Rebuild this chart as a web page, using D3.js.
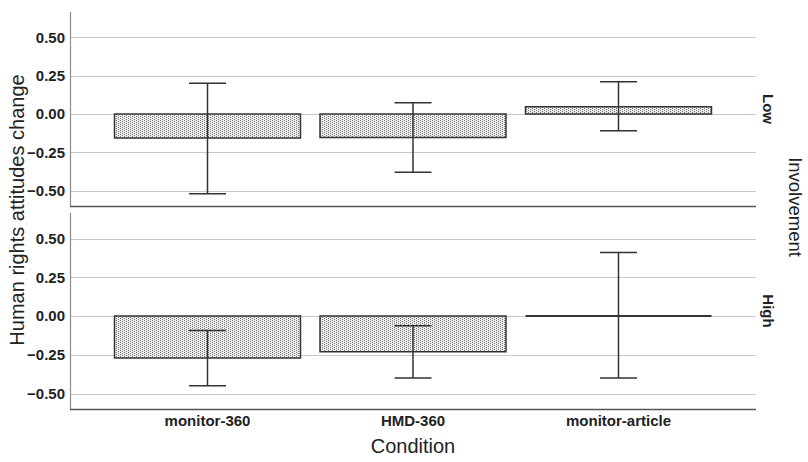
<!DOCTYPE html>
<html>
<head>
<meta charset="utf-8">
<script src="https://cdn.jsdelivr.net/npm/d3@7"></script>
<style>
  body { margin: 0; background: #fff; }
  svg { display: block; font-family: "Liberation Sans", Arial, sans-serif; }
</style>
</head>
<body>
<svg width="808" height="462"></svg>
<script>
var categories = ["monitor-360", "HMD-360", "monitor-article"];
var panelNames = ["Low", "High"];
var yTicks = [0.5, 0.25, 0, -0.25, -0.5];

// means and 95% CI per panel
var lowMeans = [-0.156, -0.153, 0.047],
	lowLower = [-0.52, -0.38, -0.11],
	lowUpper = [0.20, 0.073, 0.21];
var highMeans = [-0.271, -0.23, 0.0],
	highLower = [-0.45, -0.40, -0.40],
	highUpper = [-0.094, -0.062, 0.41];

var panelData = [
	{name: panelNames[0], means: lowMeans, lower: lowLower, upper: lowUpper, top: 12, bottom: 206},
	{name: panelNames[1], means: highMeans, lower: highLower, upper: highUpper, top: 213, bottom: 409}
];

var left = 70, right = 756;
var svg = d3.select("svg");

// dotted fill
var pat = svg.append("defs").append("pattern")
	.attr("id", "dots")
	.attr("patternUnits", "userSpaceOnUse")
	.attr("width", 4).attr("height", 2);
pat.append("rect").attr("width", 4).attr("height", 2).attr("fill", "#ececec");
pat.append("rect").attr("x", 0).attr("y", 0).attr("width", 1).attr("height", 1).attr("fill", "#7a7a7a");
pat.append("rect").attr("x", 2).attr("y", 1).attr("width", 1).attr("height", 1).attr("fill", "#7a7a7a");

var x = d3.scaleBand()
	.domain(categories)
	.range([left, right])
	.paddingInner(0.095)
	.paddingOuter(0.2166);

var capHalf = 18.5;

panelData.forEach(function(p){
	var y = d3.scaleLinear().domain([-0.6, 0.665]).range([p.bottom, p.top]);
	var g = svg.append("g");

	// grid
	g.selectAll(".grid").data(yTicks).enter()
		.append("line")
		.attr("x1", left).attr("x2", right)
		.attr("y1", function(d){ return Math.round(y(d)) + 0.5; })
		.attr("y2", function(d){ return Math.round(y(d)) + 0.5; })
		.attr("stroke", "#c8c8c8").attr("stroke-width", 1.2);

	// y axis
	var yAxis = d3.axisLeft(y).tickValues(yTicks).tickSize(0).tickPadding(5)
		.tickFormat(d3.format(".2f"));
	var ax = g.append("g").attr("transform", "translate(" + left + ",0)").call(yAxis);
	ax.select(".domain").remove();
	ax.selectAll("text")
		.attr("font-size", "15px").attr("font-weight", "bold")
		.attr("fill", "#222")
		.attr("font-family", "Liberation Sans, Arial, sans-serif");

	g.append("line")
		.attr("x1", left + 0.5).attr("x2", left + 0.5)
		.attr("y1", p.top).attr("y2", p.bottom)
		.attr("stroke", "#8a8a8a").attr("stroke-width", 1.2);
	g.append("line")
		.attr("x1", left).attr("x2", right)
		.attr("y1", p.bottom + 0.5).attr("y2", p.bottom + 0.5)
		.attr("stroke", "#555").attr("stroke-width", 1.5);

	// bars
	g.selectAll(".bar").data(p.means).enter()
		.append("path")
		.attr("d", function(d, i){
			var x0 = x(categories[i]), x1 = x0 + x.bandwidth();
			var y0 = y(0), y1 = y(d);
			return "M" + x0 + "," + y0 + "H" + x1 + "V" + y1 + "H" + x0 + "Z";
		})
		.attr("fill", "url(#dots)")
		.attr("stroke", "#333")
		.attr("stroke-width", function(d){ return d === 0 ? 2 : 1.5; });

	// error bars
	var eb = g.selectAll(".err").data(p.means).enter().append("g");
	eb.append("line")
		.attr("x1", function(d, i){ return x(categories[i]) + x.bandwidth() / 2; })
		.attr("x2", function(d, i){ return x(categories[i]) + x.bandwidth() / 2; })
		.attr("y1", function(d, i){ return y(p.upper[i]); })
		.attr("y2", function(d, i){ return y(p.lower[i]); });
	eb.append("line")
		.attr("x1", function(d, i){ return x(categories[i]) + x.bandwidth() / 2 - capHalf; })
		.attr("x2", function(d, i){ return x(categories[i]) + x.bandwidth() / 2 + capHalf; })
		.attr("y1", function(d, i){ return y(p.upper[i]); })
		.attr("y2", function(d, i){ return y(p.upper[i]); });
	eb.append("line")
		.attr("x1", function(d, i){ return x(categories[i]) + x.bandwidth() / 2 - capHalf; })
		.attr("x2", function(d, i){ return x(categories[i]) + x.bandwidth() / 2 + capHalf; })
		.attr("y1", function(d, i){ return y(p.lower[i]); })
		.attr("y2", function(d, i){ return y(p.lower[i]); });
	eb.selectAll("line").attr("stroke", "#333").attr("stroke-width", 1.5);

	// panel label
	var cy = (p.top + p.bottom) / 2;
	svg.append("text")
		.attr("transform", "translate(763," + cy + ") rotate(90)")
		.attr("text-anchor", "middle")
		.attr("font-size", "15px").attr("font-weight", "bold").attr("fill", "#222")
		.text(p.name);
});

// x axis labels
var xAxis = d3.axisBottom(x).tickSize(0).tickPadding(6);
var xa = svg.append("g").attr("transform", "translate(0,409)").call(xAxis);
xa.select(".domain").remove();
xa.selectAll("text")
	.attr("font-size", "15px").attr("font-weight", "bold").attr("fill", "#222")
	.attr("font-family", "Liberation Sans, Arial, sans-serif");

svg.append("text")
	.attr("x", (left + right) / 2).attr("y", 453)
	.attr("text-anchor", "middle")
	.attr("font-size", "20px").attr("fill", "#222")
	.text("Condition");

svg.append("text")
	.attr("transform", "translate(24,210) rotate(-90)")
	.attr("text-anchor", "middle")
	.attr("font-size", "20px").attr("fill", "#222")
	.text("Human rights attitudes change");

svg.append("text")
	.attr("transform", "translate(789,207) rotate(90)")
	.attr("text-anchor", "middle")
	.attr("font-size", "18.5px").attr("fill", "#222")
	.text("Involvement");
</script>
</body>
</html>
